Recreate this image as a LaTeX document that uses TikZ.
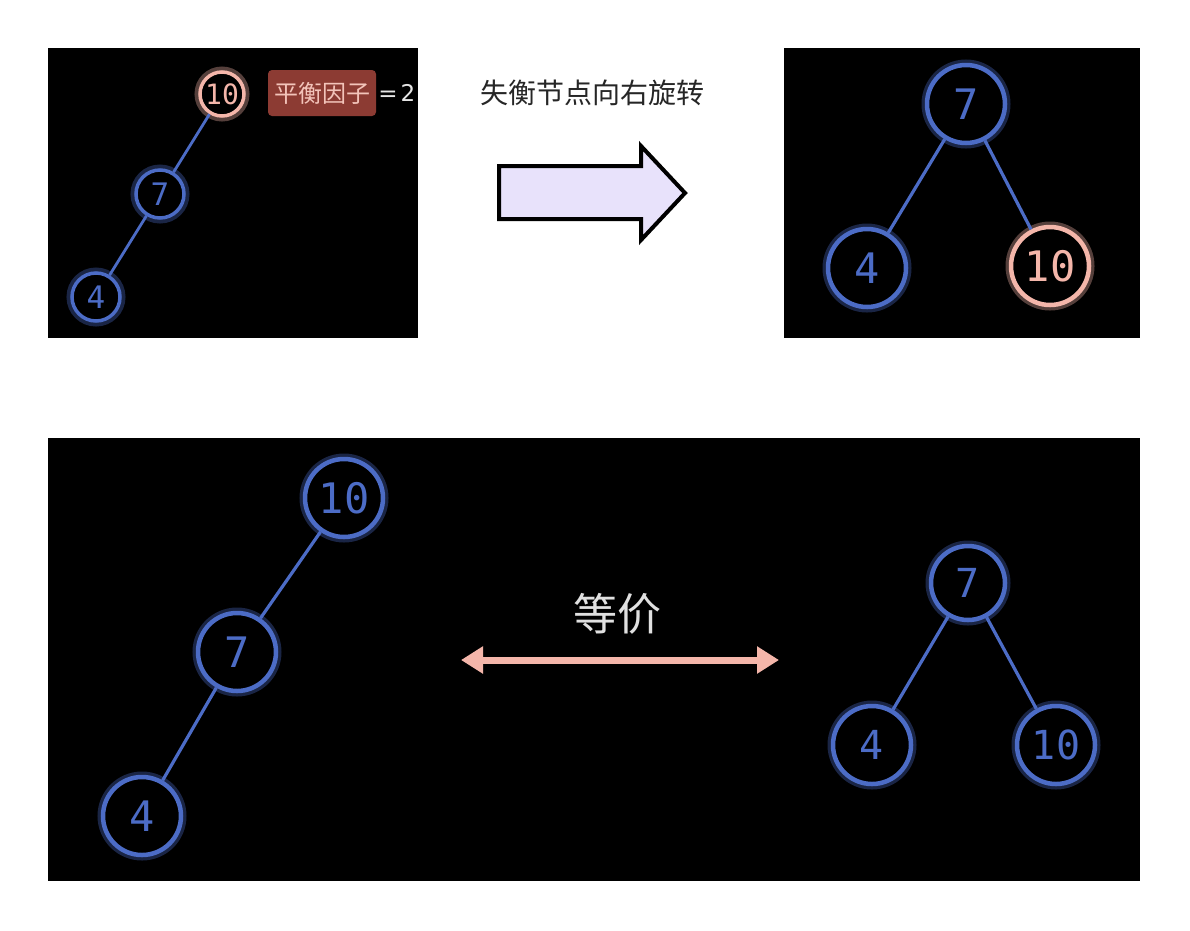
\documentclass[tikz,border=0pt]{standalone}
\usepackage{fontspec}
\newfontfamily\cjk{Noto Sans CJK SC}
\newfontfamily\mono{DejaVu Sans Mono}
\newfontfamily\dsans{DejaVu Sans}
\usetikzlibrary{arrows.meta}
\definecolor{nblue}{HTML}{4C6CC6}
\definecolor{npink}{HTML}{F4B6AA}
\definecolor{lblbg}{HTML}{8C3B33}
\definecolor{lbltx}{HTML}{F3C4BA}
\definecolor{lav}{HTML}{E8E2FB}
\tikzset{
  panel/.style={fill=black, draw=none},
  bnode/.style={circle, draw=nblue, line width=4.5pt, text=nblue, fill=black, inner sep=0pt,
    font=\mono, preaction={draw=nblue, line width=11pt, draw opacity=0.35}},
  pnode/.style={circle, draw=npink, line width=4.5pt, text=npink, fill=black, inner sep=0pt,
    font=\mono, preaction={draw=npink, line width=11pt, draw opacity=0.35}},
  edge/.style={draw=nblue, line width=3.2pt},
}
\begin{document}
\begin{tikzpicture}[x=1pt,y=-1pt]
\useasboundingbox[fill=white] (0,0) rectangle (1190,930);
% panels
\fill[panel] (48,48) rectangle (418,338);
\fill[panel] (784,48) rectangle (1140,338);
\fill[panel] (48,438) rectangle (1140,881);

% top-left tree
\node[pnode, minimum size=44pt, line width=3.5pt, font=\mono\fontsize{28}{28}\selectfont] (tl10) at (222,94) {10};
\node[bnode, minimum size=48pt, line width=3.5pt, font=\mono\fontsize{31}{31}\selectfont] (tl7) at (160,194) {7};
\node[bnode, minimum size=48pt, line width=3.5pt, font=\mono\fontsize{31}{31}\selectfont] (tl4) at (96,297) {4};
\draw[edge, line width=2.8pt] (tl10) -- (tl7);
\draw[edge, line width=2.8pt] (tl7) -- (tl4);
\node[fill=lblbg, rounded corners=4pt, text=lbltx, inner sep=3pt, minimum height=46pt, minimum width=108pt,
  font=\cjk\fontsize{24}{24}\selectfont] (bf) at (322,93) {平衡因子};
\node[anchor=west, text=white!90!black, inner sep=2pt,
  font=\dsans\fontsize{23}{23}\selectfont] (eq) at (bf.east) {=\kern3pt2};

% title and block arrow
\node[font=\cjk\fontsize{28}{28}\selectfont, text=black!85] (title) at (592,93) {失衡节点向右旋转};
\draw[fill=lav, draw=black, line width=4pt, line join=miter]
  (499,166) -- (641,166) -- (641,146) -- (685,193) -- (641,240) -- (641,219) -- (499,219) -- cycle;

% top-right tree
\node[bnode, minimum size=78pt, font=\mono\fontsize{42}{42}\selectfont] (tr7) at (966,104) {7};
\node[bnode, minimum size=78pt, font=\mono\fontsize{42}{42}\selectfont] (tr4) at (867,268) {4};
\node[pnode, minimum size=78pt, font=\mono\fontsize{42}{42}\selectfont] (tr10) at (1050,266) {10};
\draw[edge] (tr7) -- (tr4);
\draw[edge] (tr7) -- (tr10);

% bottom-left chain
\node[bnode, minimum size=78pt, font=\mono\fontsize{42}{42}\selectfont] (b10) at (344,498) {10};
\node[bnode, minimum size=78pt, font=\mono\fontsize{42}{42}\selectfont] (b7) at (237,652) {7};
\node[bnode, minimum size=78pt, font=\mono\fontsize{42}{42}\selectfont] (b4) at (142,816) {4};
\draw[edge] (b10) -- (b7);
\draw[edge] (b7) -- (b4);

% bottom-right tree
\node[bnode, minimum size=74pt, font=\mono\fontsize{40}{40}\selectfont] (c7) at (968,583) {7};
\node[bnode, minimum size=78pt, font=\mono\fontsize{40}{40}\selectfont] (c4) at (872,745) {4};
\node[bnode, minimum size=78pt, font=\mono\fontsize{40}{40}\selectfont] (c10) at (1056,745) {10};
\draw[edge] (c7) -- (c4);
\draw[edge] (c7) -- (c10);

% equivalence
\node[font=\cjk\fontsize{44}{44}\selectfont, text=white!88!black] (eqv) at (617,614) {等价};
\coordinate (dl) at (461,660);
\coordinate (dr) at (779,660);
\draw[draw=npink, line width=7pt, {Triangle[length=22pt,width=26pt]}-{Triangle[length=22pt,width=26pt]}] (dl) -- (dr);
\end{tikzpicture}
\end{document}
